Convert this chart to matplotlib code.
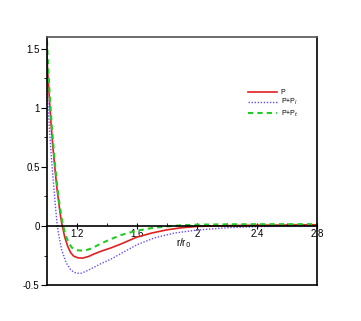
import numpy as np
import matplotlib.pyplot as plt

plt.rcParams['font.family'] = ['Liberation Sans', 'DejaVu Sans']

# values (r/r0 vs potential)
r_p = [1.0, 1.01, 1.02, 1.03, 1.04, 1.05, 1.06, 1.07, 1.08, 1.09, 1.10,
       1.12, 1.14, 1.16, 1.18, 1.21, 1.24, 1.28, 1.32, 1.36, 1.43, 1.5,
       1.6, 1.7, 1.8, 1.9, 2.0, 2.2, 2.4, 2.6, 2.8]
p = [1.48, 1.25, 1.05, 0.86, 0.70, 0.56, 0.43, 0.31, 0.21, 0.11, 0.03,
     -0.09, -0.17, -0.225, -0.255, -0.27, -0.272, -0.258, -0.235, -0.215,
     -0.185, -0.15, -0.095, -0.06, -0.033, -0.015, -0.004, 0.003, 0.006,
     0.008, 0.01]

r_pl = [1.0, 1.01, 1.02, 1.03, 1.04, 1.05, 1.06, 1.07, 1.08, 1.10, 1.13,
        1.16, 1.18, 1.20, 1.23, 1.26, 1.30, 1.36, 1.43, 1.5, 1.6, 1.72,
        1.85, 2.0, 2.2, 2.4, 2.6, 2.8]
p_pl = [1.22, 1.02, 0.80, 0.62, 0.45, 0.30, 0.15, 0.02, -0.07, -0.20,
        -0.31, -0.37, -0.39, -0.40, -0.40, -0.385, -0.36, -0.32, -0.28,
        -0.23, -0.16, -0.10, -0.06, -0.035, -0.015, -0.006, -0.002, 0.0]

r_pt = [1.0, 1.01, 1.02, 1.03, 1.04, 1.05, 1.06, 1.07, 1.08, 1.09, 1.10,
        1.11, 1.13, 1.15, 1.17, 1.2, 1.25, 1.3, 1.36, 1.43, 1.5, 1.6, 1.7,
        1.8, 1.9, 2.0, 2.2, 2.4, 2.6, 2.8]
p_pt = [1.65, 1.36, 1.13, 0.93, 0.76, 0.61, 0.47, 0.35, 0.24, 0.15, 0.07,
        0.0, -0.09, -0.15, -0.185, -0.205, -0.21, -0.19, -0.15, -0.11,
        -0.075, -0.04, -0.018, -0.004, 0.006, 0.011, 0.014, 0.015, 0.015,
        0.015]

labels = ['P', 'P+P$_l$', 'P+P$_t$']
x_ticks = [1.2, 1.6, 2.0, 2.4, 2.8]
x_ticklabels = ['1.2', '1.6', '2', '2.4', '2.8']
y_ticks = [-0.5, 0, 0.5, 1, 1.5]
y_ticklabels = ['-0.5', '0', '0.5', '1', '1.5']

fig = plt.figure(figsize=(3.61, 3.21), dpi=100)
ax = fig.add_axes([0.129, 0.112, 0.749, 0.773])

ax.plot(r_p, p, color='#e02020', lw=1.2, label=labels[0])
ax.plot(r_pl, p_pl, color='#6a4cff', lw=1.0, ls=(0, (1, 1.2)), label=labels[1])
ax.plot(r_pt, p_pt, color='#22cc22', lw=1.5, ls=(0, (2.5, 2)), label=labels[2])

ax.set_xlim(1.0, 2.8)
ax.set_ylim(-0.5, 1.6)

# x axis sits on y = 0, keep the box bottom as a plain line
ax.spines['bottom'].set_position(('data', 0))
ax.plot([0, 1], [0, 0], transform=ax.transAxes, color='k', lw=1.2, clip_on=False)
for s in ax.spines.values():
    s.set_linewidth(1.2)
ax.spines['top'].set_color('#555555')

ax.set_xticks(x_ticks)
ax.set_xticklabels(x_ticklabels)
ax.set_yticks(y_ticks)
ax.set_yticklabels(y_ticklabels)
ax.set_xticks([1.4, 1.8, 2.2, 2.6], minor=True)
ax.set_yticks([-0.25, 0.25, 0.75, 1.25], minor=True)
ax.tick_params(axis='x', which='major', direction='inout', length=5, pad=0, labelsize=7)
ax.tick_params(axis='x', which='minor', direction='in', length=2)
ax.tick_params(axis='y', which='major', direction='out', length=4, pad=1, labelsize=7)
ax.tick_params(axis='y', which='minor', direction='out', length=2)

ax.text(1.91, -0.145, 'r/r$_0$', fontsize=7, ha='center', va='center')

ax.legend(loc='upper left', bbox_to_anchor=(0.745, 0.79), frameon=False,
          fontsize=5, handlelength=4.2, handletextpad=0.5, labelspacing=0.15,
          borderpad=0, borderaxespad=0)

fig.savefig('out.png', dpi=100)
